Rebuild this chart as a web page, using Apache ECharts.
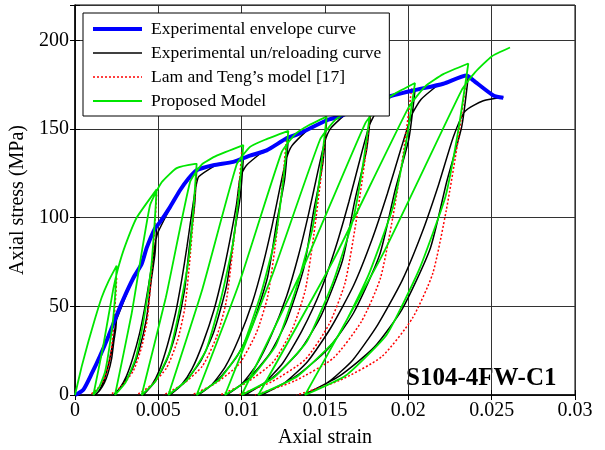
<!DOCTYPE html>
<html>
<head>
<meta charset="utf-8">
<script src="https://cdn.jsdelivr.net/npm/echarts@6.0.0/dist/echarts.min.js"></script>
<style>
  html, body { margin: 0; padding: 0; background: #fff; }
  #chart { width: 605px; height: 450px; }
</style>
</head>
<body>
<div id="chart"></div>
<script>
// tick values
var xTicks = [0, 0.005, 0.01, 0.015, 0.02, 0.025, 0.03];
var yTicks = [0, 50, 100, 150, 200];

// experimental envelope (strain, MPa)
var envelope = [
  [0, 0], [0.0005, 3], [0.001, 12], [0.0015, 22], [0.002, 33], [0.0025, 45], [0.0029, 54],
  [0.0035, 66], [0.004, 74], [0.0043, 83], [0.0048, 94], [0.0051, 97.5], [0.0057, 106],
  [0.0063, 115.5], [0.0068, 122], [0.0073, 126.8], [0.0083, 129.6], [0.0095, 131.5],
  [0.0105, 135], [0.0115, 138], [0.0127, 144.8], [0.0135, 147.6], [0.0151, 155],
  [0.0159, 157.2], [0.017, 161.5], [0.0187, 168], [0.0203, 171.8], [0.0221, 175.6],
  [0.0235, 180.3], [0.0239, 177.5], [0.0251, 169], [0.0257, 167.7]
];

// experimental unloading + reloading loops
var blackCycles = [
  [[0.0025, 45], [0.00245, 37.8], [0.00233, 30.2], [0.0022, 20.7], [0.00198, 12.2], [0.00176, 6.8], [0.00149, 2.7], [0.0012, 0],
   [0.0014, 1.8], [0.00159, 5], [0.00179, 9.9], [0.00198, 16.2], [0.00214, 23], [0.00227, 29.7], [0.00238, 36.5], [0.00247, 41.4], [0.00254, 43.7], [0.0034, 64]],
  [[0.0049, 95], [0.0048, 79.8], [0.00456, 63.7], [0.0043, 43.7], [0.00386, 25.7], [0.00342, 14.3], [0.00287, 5.7], [0.0023, 0],
   [0.00269, 3.8], [0.00308, 10.5], [0.00347, 20.9], [0.00386, 34.2], [0.00417, 48.5], [0.00443, 62.7], [0.00467, 77], [0.00485, 87.4], [0.005, 92.2], [0.0059, 109]],
  [[0.0073, 127], [0.00717, 106.7], [0.00688, 85.1], [0.00656, 58.4], [0.00602, 34.3], [0.00548, 19.1], [0.0048, 7.6], [0.0041, 0],
   [0.00458, 5.1], [0.00506, 14], [0.00554, 27.9], [0.00602, 45.7], [0.0064, 64.8], [0.00672, 83.8], [0.00701, 102.9], [0.00724, 116.8], [0.00743, 123.2], [0.0085, 130]],
  [[0.0101, 133.5], [0.00992, 112.1], [0.00953, 89.4], [0.00909, 61.4], [0.00834, 36], [0.00759, 20], [0.00667, 8], [0.0057, 0],
   [0.00636, 5.3], [0.00702, 14.7], [0.00768, 29.4], [0.00834, 48.1], [0.00887, 68.1], [0.00931, 88.1], [0.0097, 108.1], [0.00991, 122.8], [0.01028, 129.5], [0.0113, 137.5]],
  [[0.0128, 145], [0.01258, 121.8], [0.0121, 97.2], [0.01156, 66.7], [0.01064, 39.2], [0.00972, 21.8], [0.00859, 8.7], [0.0074, 0],
   [0.00821, 5.8], [0.00902, 16], [0.00983, 31.9], [0.01064, 52.2], [0.01129, 74], [0.01183, 95.7], [0.01231, 117.5], [0.01269, 133.4], [0.01302, 140.7], [0.014, 150]],
  [[0.0151, 155], [0.01486, 130.2], [0.01432, 103.9], [0.01372, 71.3], [0.0127, 41.9], [0.01168, 23.3], [0.01042, 9.3], [0.0091, 0],
   [0.01, 6.2], [0.0109, 17.1], [0.0118, 34.1], [0.0127, 55.8], [0.01342, 79.1], [0.01402, 102.3], [0.01456, 125.6], [0.01498, 142.6], [0.01534, 150.4], [0.0163, 159]],
  [[0.0178, 165], [0.0175, 138.6], [0.01681, 110.6], [0.01605, 75.9], [0.01476, 44.6], [0.01347, 24.8], [0.01187, 9.9], [0.0102, 0],
   [0.01134, 6.6], [0.01248, 18.2], [0.01362, 36.3], [0.01476, 59.4], [0.01567, 84.2], [0.01643, 108.9], [0.01712, 133.7], [0.01765, 151.8], [0.0181, 160], [0.019, 168.7]],
  [[0.0204, 172], [0.02003, 144.5], [0.0192, 115.2], [0.01828, 79.1], [0.01672, 46.4], [0.01516, 25.8], [0.01322, 10.3], [0.0112, 0],
   [0.01258, 6.9], [0.01396, 18.9], [0.01534, 37.8], [0.01672, 61.9], [0.01782, 87.7], [0.01874, 113.5], [0.01957, 139.3], [0.02022, 158.2], [0.02077, 166.8], [0.0218, 175]],
  [[0.0236, 180], [0.0232, 151.2], [0.02231, 120.6], [0.02132, 82.8], [0.01964, 48.6], [0.01796, 27], [0.01588, 10.8], [0.0137, 0],
   [0.01519, 7.2], [0.01667, 19.8], [0.01816, 39.6], [0.01964, 64.8], [0.02083, 91.8], [0.02182, 118.8], [0.02271, 145.8], [0.0234, 160], [0.0245, 166], [0.0257, 168]]
];

// Lam and Teng model unloading branches
var redCycles = [
  [[0.0025, 66], [0.00242, 52.8], [0.00231, 38.3], [0.00218, 25.1], [0.00199, 15.8], [0.0017, 7.9], [0.0013, 3], [0.0009, 0]],
  [[0.0049, 113], [0.00476, 90.4], [0.00456, 65.5], [0.00434, 42.9], [0.004, 27.1], [0.0035, 13.6], [0.0028, 5.1], [0.0021, 0]],
  [[0.0073, 128], [0.00712, 102.4], [0.00687, 74.2], [0.00658, 48.6], [0.00615, 30.7], [0.0055, 15.4], [0.0046, 5.8], [0.0037, 0]],
  [[0.01, 137], [0.00977, 109.6], [0.00944, 79.5], [0.00906, 52.1], [0.0085, 32.9], [0.00765, 16.4], [0.00648, 6.2], [0.0053, 0]],
  [[0.0127, 146], [0.01242, 116.8], [0.01202, 84.7], [0.01156, 55.5], [0.01088, 35], [0.00985, 17.5], [0.00843, 6.6], [0.007, 0]],
  [[0.0151, 156], [0.01478, 124.8], [0.01433, 90.5], [0.01382, 59.3], [0.01305, 37.4], [0.0119, 18.7], [0.0103, 7], [0.0087, 0]],
  [[0.0178, 166], [0.0174, 132.8], [0.01684, 96.3], [0.0162, 63.1], [0.01524, 39.8], [0.0138, 19.9], [0.0118, 7.5], [0.0098, 0]],
  [[0.0202, 173], [0.01973, 138.4], [0.01907, 100.3], [0.01832, 65.7], [0.01719, 41.5], [0.0155, 20.8], [0.01315, 7.8], [0.0108, 0]],
  [[0.0235, 180], [0.02299, 144], [0.02228, 104.4], [0.02146, 68.4], [0.02024, 43.2], [0.0184, 21.6], [0.01585, 8.1], [0.0133, 0]]
];

// proposed model, full loading history
var proposed = [
  [0, 0], [0.0004, 16], [0.0008, 30], [0.0012, 43], [0.0016, 55], [0.002, 64], [0.0025, 73],
  [0.00242, 58], [0.0023, 44], [0.00208, 28], [0.0018, 13], [0.00145, 4.4], [0.0011, 0],
  [0.0017, 28], [0.0023, 60], [0.0026, 72], [0.003, 84], [0.0037, 100], [0.0049, 116],
  [0.00475, 93], [0.00455, 70], [0.00415, 44], [0.00365, 21], [0.00303, 7], [0.0024, 0],
  [0.0034, 46], [0.0045, 107], [0.0052, 120], [0.0061, 128], [0.0073, 130.5],
  [0.0071, 104], [0.00684, 78], [0.00631, 50], [0.00565, 23.5], [0.00483, 7.8], [0.004, 0],
  [0.00545, 55], [0.0069, 120], [0.0076, 130], [0.0085, 135], [0.0101, 141],
  [0.00983, 113], [0.00947, 85], [0.00875, 54], [0.00785, 25], [0.00673, 8.5], [0.0056, 0],
  [0.00765, 60], [0.0097, 130], [0.0105, 140], [0.0114, 144], [0.0128, 149],
  [0.01247, 119], [0.01203, 89], [0.01115, 57], [0.01005, 27], [0.00868, 9], [0.0073, 0],
  [0.00985, 63], [0.0124, 137], [0.0132, 147], [0.014, 152], [0.0151, 157],
  [0.01473, 126], [0.01425, 94], [0.01327, 60], [0.01205, 28], [0.01053, 9.4], [0.009, 0],
  [0.01185, 68], [0.0147, 144], [0.0156, 155], [0.0165, 161], [0.0178, 166],
  [0.01733, 133], [0.01671, 100], [0.01546, 63], [0.0139, 30], [0.01195, 10], [0.01, 0],
  [0.0137, 72], [0.0174, 153], [0.0183, 164], [0.0192, 170], [0.0204, 176],
  [0.01984, 141], [0.01908, 106], [0.01758, 67], [0.0157, 32], [0.01335, 10.6], [0.011, 0],
  [0.0155, 76], [0.02, 162], [0.021, 174], [0.0221, 181], [0.0236, 187],
  [0.02301, 150], [0.02223, 112], [0.02066, 71], [0.0187, 34], [0.01625, 11], [0.0138, 0],
  [0.0185, 80], [0.0232, 172], [0.024, 182], [0.025, 191], [0.0261, 196]
];

var names = ['Experimental envelope curve', 'Experimental un/reloading curve',
  'Lam and Teng\u2019s model [17]', 'Proposed Model'];

var font = 'Liberation Serif';
var chart = echarts.init(document.getElementById('chart'));

function lineSeries(name, data, color, width, type, smooth) {
  return {
    name: name, type: 'line', data: data, symbol: 'none', smooth: smooth,
    lineStyle: {color: color, width: width, type: type}, itemStyle: {color: color}
  };
}

var series = [];
blackCycles.forEach(function (c) {
  series.push(lineSeries(names[1], c, '#000', 1.5, 'solid', 0.2));
});
redCycles.forEach(function (c) {
  series.push(lineSeries(names[2], c, '#ff0000', 1.5, [2, 2], 0.2));
});
series.push(lineSeries(names[0], envelope, '#0000ff', 4, 'solid', 0.2));
series.push(lineSeries(names[3], proposed, '#00e600', 1.8, 'solid', 0.15));

chart.setOption({
  animation: false,
  backgroundColor: '#fff',
  grid: {
    left: 75, right: 30, top: 5, bottom: 55, outerBoundsMode: 'none',
    show: true, borderColor: '#000', borderWidth: 1
  },
  legend: {
    data: names,
    orient: 'vertical',
    left: 83, top: 13,
    padding: [7, 8, 6, 8],
    itemWidth: 49, itemHeight: 10, itemGap: 6,
    itemStyle: {color: 'rgba(0,0,0,0)', borderWidth: 0},
    lineStyle: {width: 'inherit'},
    backgroundColor: '#fff', borderColor: '#000', borderWidth: 1,
    textStyle: {fontFamily: font, fontSize: 17.5, color: '#000', padding: [0, 0, 0, 4]}
  },
  graphic: [{
    type: 'text', left: 406, top: 366,
    style: {text: 'S104-4FW-C1', fontFamily: font, fontSize: 25, fontWeight: 'bold', fill: '#000'}
  }],
  xAxis: [{
    type: 'value', min: xTicks[0], max: xTicks[xTicks.length - 1], interval: 0.005,
    name: 'Axial strain', nameLocation: 'middle', nameGap: 33,
    nameTextStyle: {fontFamily: font, fontSize: 20, color: '#000'},
    axisLine: {show: true, lineStyle: {color: '#000', width: 1.5}},
    axisTick: {show: true, inside: true, length: 5, lineStyle: {color: '#000'}},
    axisLabel: {fontFamily: font, fontSize: 20, color: '#000', margin: 6,
      formatter: function (v) { return String(+v.toFixed(3)); }},
    splitLine: {show: true, lineStyle: {color: '#333', width: 1}}
  }, {
    type: 'value', position: 'top', min: 0, max: 0.03, interval: 0.005,
    axisLine: {show: false},
    axisTick: {show: true, inside: true, length: 5, lineStyle: {color: '#000'}},
    axisLabel: {show: false}, splitLine: {show: false}
  }],
  yAxis: [{
    type: 'value', min: yTicks[0], max: 220, interval: 50,
    name: 'Axial stress (MPa)', nameLocation: 'middle', nameGap: 44, nameRotate: 90,
    nameTextStyle: {fontFamily: font, fontSize: 20, color: '#000'},
    axisLine: {show: true, lineStyle: {color: '#000', width: 1.5}},
    axisTick: {show: true, inside: true, length: 5, lineStyle: {color: '#000'}},
    axisLabel: {fontFamily: font, fontSize: 20, color: '#000', margin: 6,
      formatter: function (v) { return v > yTicks[yTicks.length - 1] ? '' : v; }},
    splitLine: {show: true, lineStyle: {color: '#333', width: 1}}
  }, {
    type: 'value', position: 'right', min: 0, max: 220, interval: 50,
    axisLine: {show: false},
    axisTick: {show: true, inside: true, length: 5, lineStyle: {color: '#000'}},
    axisLabel: {show: false}, splitLine: {show: false}
  }],
  series: series
});
</script>
</body>
</html>
